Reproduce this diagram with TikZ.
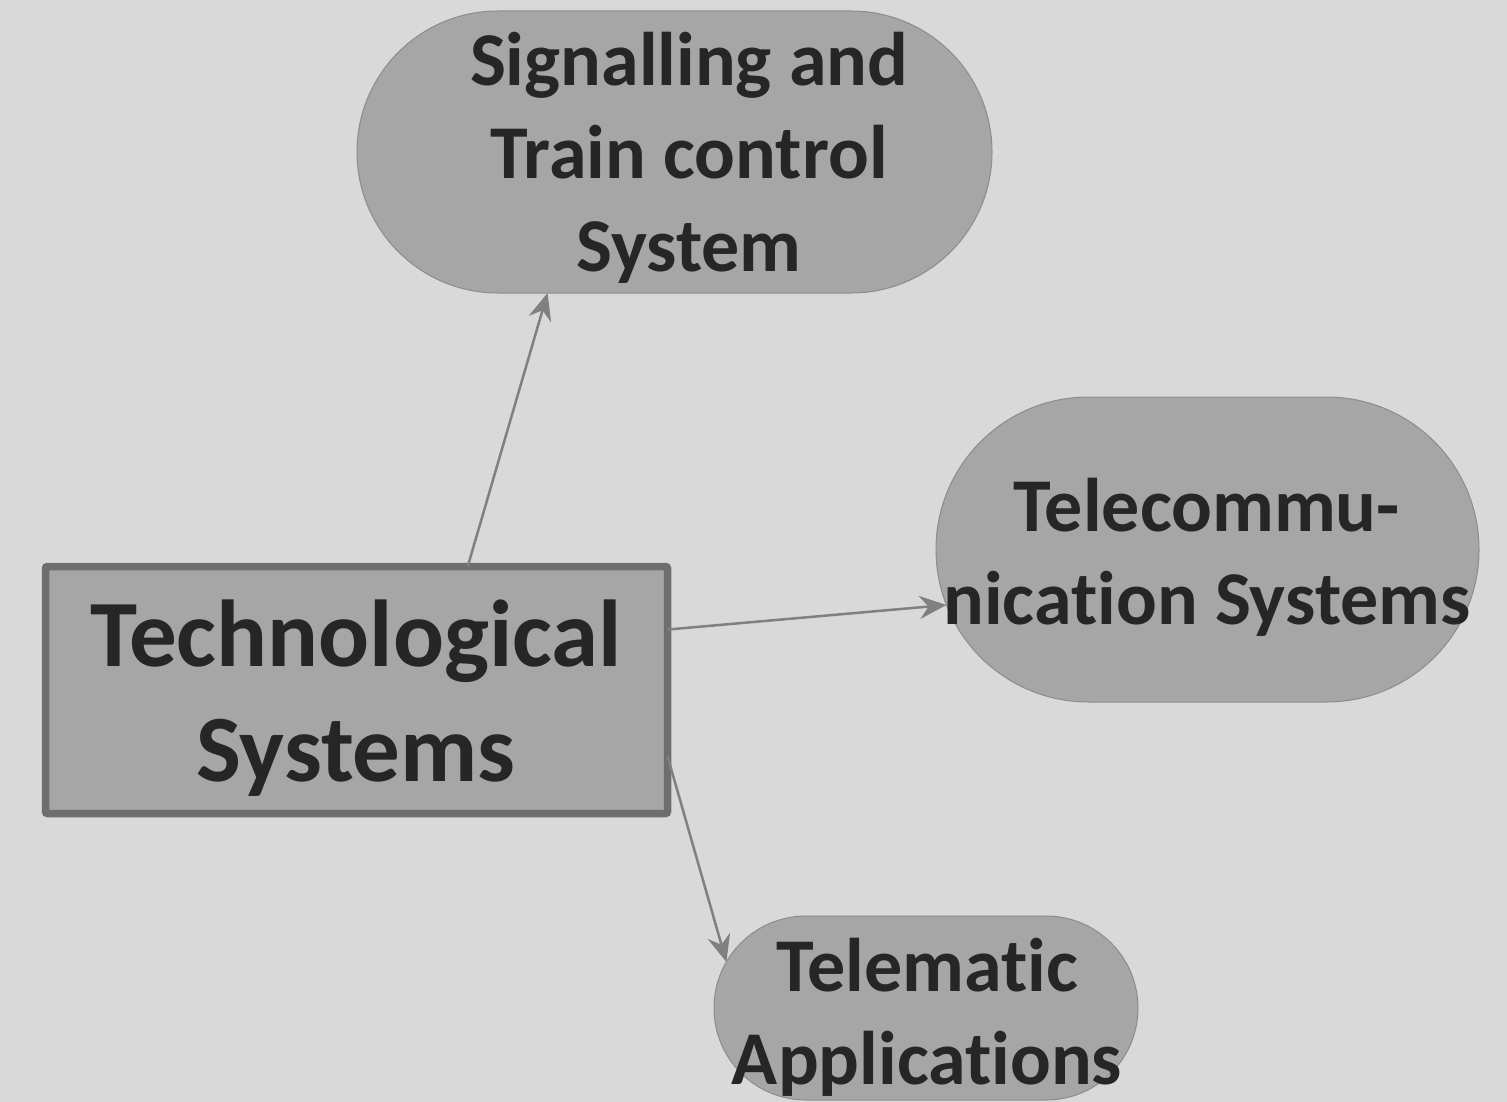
\documentclass[tikz,border=0pt]{standalone}
\usepackage{fontspec}
\setmainfont{Carlito}[Ligatures={NoCommon}]
\usetikzlibrary{arrows.meta,shapes.misc}
\definecolor{bg}{HTML}{D9D9D9}
\definecolor{boxfill}{HTML}{A6A6A6}
\definecolor{boxline}{HTML}{6E6E6E}
\definecolor{pillline}{HTML}{8C8C8C}
\definecolor{txtc}{HTML}{262626}
\definecolor{arrc}{HTML}{808080}
\tikzset{
  techbox/.style={rectangle, fill=boxfill, draw=boxline, line width=7.5pt, rounded corners=2pt,
    minimum width=622pt, minimum height=247pt, outer sep=0pt, inner sep=0pt},
  pill/.style={rounded rectangle, fill=boxfill, draw=pillline, line width=1pt, outer sep=0pt, inner sep=0pt},
  bigtxt/.style={text=txtc, font=\fontsize{95}{115}\selectfont\bfseries, align=center, inner sep=0pt},
  midtxt/.style={text=txtc, font=\fontsize{76}{93}\selectfont\bfseries, align=center, inner sep=0pt},
  conn/.style={draw=arrc, line width=2.5pt, -{Stealth[length=27pt,width=23pt,inset=9pt]}}
}
\begin{document}
\begin{tikzpicture}[x=1pt,y=-1pt]
\fill[bg] (0,0) rectangle (1507,1102);
\useasboundingbox (0,0) rectangle (1507,1102);
\node[techbox] (tech) at (356.5,690) {};
\node[bigtxt] (techt) at (356,698) {Technological\\Systems};
\node[pill, minimum width=635pt, minimum height=282pt] (sig) at (674.5,152) {};
\node[midtxt] (sigt) at (689,158) {Signalling and\\Train control\\System};
\node[pill, minimum width=543pt, minimum height=305pt] (tele) at (1207.5,549.5) {};
\node[midtxt] (telet) at (1207,557) {Telecommu-\\nication Systems};
\node[pill, minimum width=424pt, minimum height=184pt] (tm) at (926,1008) {};
\node[midtxt] (tmt) at (927,1017) {Telematic\\Applications};
\draw[conn] (tech.48.5) -- (sig.228.3);
\draw[conn] (tech.11.5) -- (tele.192);
\draw[conn] (tech.348) -- (tm.167.9);
\end{tikzpicture}
\end{document}
